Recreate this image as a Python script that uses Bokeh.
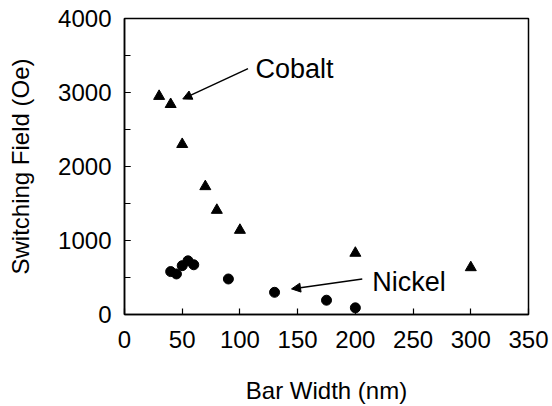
from bokeh.plotting import figure
from bokeh.models import Arrow, NormalHead, SingleIntervalTicker, Range1d, Label
from bokeh.embed import file_html
from bokeh.resources import INLINE

# Data
co_x = [30, 40, 50, 70, 80, 100, 200, 300]
co_y = [2950, 2840, 2300, 1730, 1410, 1140, 830, 635]
ni_x = [40, 45, 50, 55, 60, 90, 130, 175, 200]
ni_y = [580, 548, 660, 725, 672, 480, 300, 193, 90]

x_label = "Bar Width (nm)"
y_label = "Switching Field (Oe)"

co_name = "Cobalt"
co_text_pos = (113.5, 3320)
co_arrow = (107, 3323, 50.5, 2913)
ni_name = "Nickel"
ni_text_pos = (214.6, 434)
ni_arrow = (206, 481, 144.7, 346)

FONT = "Liberation Sans"

p = figure(width=552, height=406, output_backend="svg", toolbar_location=None,
           x_range=Range1d(0, 350), y_range=Range1d(0, 4000),
           min_border_left=124, min_border_right=24, min_border_top=18, min_border_bottom=91)
p.grid.visible = False
p.outline_line_color = "black"
p.outline_line_width = 1.5
p.background_fill_color = "white"
p.border_fill_color = "white"

p.xaxis.ticker = SingleIntervalTicker(interval=50, num_minor_ticks=0)
p.yaxis.ticker = SingleIntervalTicker(interval=1000, num_minor_ticks=2)

for ax in (p.xaxis, p.yaxis):
    ax.axis_line_color = "black"
    ax.axis_line_width = 1.5
    ax.major_tick_in = 6
    ax.major_tick_out = 0
    ax.minor_tick_in = 6
    ax.minor_tick_out = 0
    ax.major_tick_line_width = 1.2
    ax.minor_tick_line_width = 1.2
    ax.major_label_text_font = FONT
    ax.major_label_text_font_size = "24px"
    ax.major_label_text_color = "black"
    ax.axis_label_text_font = FONT
    ax.axis_label_text_font_size = "24px"
    ax.axis_label_text_font_style = "normal"
    ax.axis_label_text_color = "black"

p.xaxis.minor_tick_line_color = None
p.xaxis.major_label_standoff = 16
p.yaxis.major_label_standoff = 13
p.xaxis.axis_label_standoff = 26
p.yaxis.axis_label_standoff = 21
p.xaxis.axis_label = x_label
p.yaxis.axis_label = y_label

p.scatter(co_x, co_y, marker="triangle", size=11, color="black")
p.scatter(ni_x, ni_y, marker="circle", size=10, color="black")

for (x0, y0, x1, y1) in (co_arrow, ni_arrow):
    p.add_layout(Arrow(end=NormalHead(size=9, fill_color="black", line_color="black"),
                       x_start=x0, y_start=y0, x_end=x1, y_end=y1,
                       line_width=1.5, line_color="black"))

for name, (tx, ty) in ((co_name, co_text_pos), (ni_name, ni_text_pos)):
    p.add_layout(Label(x=tx, y=ty, text=name, text_font=FONT, text_font_size="27px",
                       text_color="black", text_baseline="alphabetic", text_align="left"))

open("out.html", "w").write(file_html(p, INLINE))
